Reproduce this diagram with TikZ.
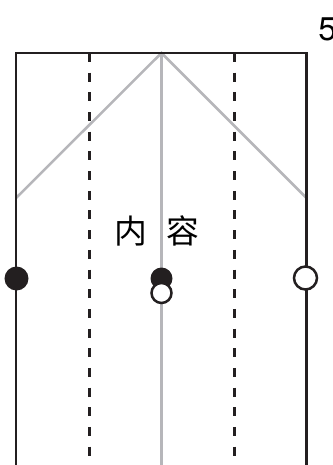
\documentclass[tikz,border=0pt]{standalone}
\usepackage{fontspec}
\setsansfont{TeX Gyre Heros}
\newfontfamily\cjk{Noto Sans CJK SC}
\definecolor{ink}{RGB}{35,31,32}
\definecolor{fold}{RGB}{182,182,186}

\begin{document}
\begin{tikzpicture}[x=0.03cm,y=-0.03cm,line width=0.075cm,
  edge/.style={draw=ink},
  crease/.style={draw=fold},
  valley/.style={draw=ink,dash pattern=on 7.7pt off 9.1pt},
  dotfull/.style={fill=ink},
  dotopen/.style={draw=ink,fill=white}]
\useasboundingbox (0,0) rectangle (333,465);

% corners and fold points
\coordinate (tl) at (16,53);
\coordinate (tr) at (306.5,53);
\coordinate (bl) at (16,466);
\coordinate (br) at (306.5,466);
\coordinate (tc) at (161.5,53);
\coordinate (bc) at (161.5,466);
\coordinate (ml) at (16,198);
\coordinate (mr) at (306.5,198);

% gray creases
\draw [crease] (tc) -- (bc);
\draw [crease] (ml) -- (tc) -- (mr);

% dashed folds
\draw [valley] (89.3,53) -- (89.3,466);
\draw [valley] (234.3,53) -- (234.3,466);

% paper outline
\draw [edge] (bl) -- (tl) -- (tr) -- (br);

% marks
\fill [dotfull] (16.5,278.5) circle (12);
\fill [dotfull] (161.5,278.5) circle (11);
\draw [dotopen] (161.5,293) circle (10);
\draw [dotopen] (305.5,278) circle (11.5);

\node (nei) at (131,231) {\cjk\fontsize{28}{28}\selectfont 内};
\node (rong) at (183,231) {\cjk\fontsize{28}{28}\selectfont 容};

\node [anchor=west,inner sep=0] (step) at (317,29) {\sffamily\fontsize{28}{28}\selectfont 5};

\end{tikzpicture}
\end{document}
